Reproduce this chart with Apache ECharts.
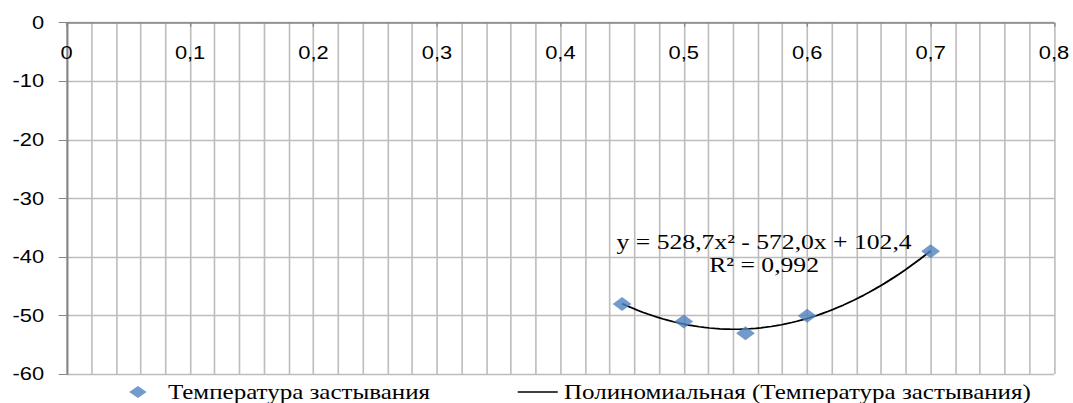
<!DOCTYPE html>
<html>
<head>
<meta charset="utf-8">
<script src="https://cdn.jsdelivr.net/npm/echarts@6/dist/echarts.min.js"></script>
<style>
  html, body { margin: 0; padding: 0; background: #fff; overflow: hidden; }
  /* the chart is laid out on a narrower canvas and widened to the window */
  #wrap { width: 858px; height: 403px; transform: scaleX(1.2506); transform-origin: 0 0; }
  #chart { width: 858px; height: 403px; }
</style>
</head>
<body>
<div id="wrap"><div id="chart"></div></div>
<script>
// Pour point measurements
const fractions = [0.45, 0.5, 0.55, 0.6, 0.7];
const pourPoint = [-48, -51, -53, -50, -39];
// Quadratic trend: y = a*x^2 + b*x + c
const trendCoef = [528.7, -572.0, 102.4];
const trendRange = [0.45, 0.7];
const seriesName = 'Температура застывания';
const trendName = 'Полиномиальная (Температура застывания)';
const eqLines = ['y = 528,7x² - 572,0x + 102,4', 'R² = 0,992'];

const [a, b, c] = trendCoef;
const trendData = [];
const steps = 60;
for (let i = 0; i <= steps; i++) {
  const x = trendRange[0] + (trendRange[1] - trendRange[0]) * i / steps;
  trendData.push([x, a * x * x + b * x + c]);
}

const AXIS = '#868686';
const GRID = '#bdbdbd';
const sans = 'Liberation Sans, Arial, sans-serif';
const serif = 'Liberation Serif, Times New Roman, serif';
const comma = v => String(Math.round(v * 10) / 10).replace('.', ',');

const chart = echarts.init(document.getElementById('chart'), null, { renderer: 'svg' });
chart.setOption({
  animation: false,
  grid: { left: 53.3, right: 14.4, top: 22.7, bottom: 28.7, containLabel: false },
  xAxis: {
    type: 'value', position: 'top', min: 0, max: 0.8, interval: 0.1,
    axisLine: { show: true, onZero: false, lineStyle: { color: AXIS, width: 1.5 } },
    axisTick: { show: true, inside: true, length: 4, lineStyle: { color: AXIS } },
    axisLabel: { inside: true, margin: 21, fontFamily: sans, fontSize: 17.5, color: '#000',
      showMinLabel: true, showMaxLabel: true, formatter: comma },
    splitLine: { show: true, lineStyle: { color: GRID, width: 1.3 } },
    minorTick: { show: false, splitNumber: 5 },
    minorSplitLine: { show: true, lineStyle: { color: GRID, width: 1.3 } }
  },
  yAxis: {
    type: 'value', min: -60, max: 0, interval: 10,
    axisLine: { show: true, onZero: false, lineStyle: { color: AXIS, width: 1.5 } },
    axisTick: { show: true, inside: false, length: 6.4, lineStyle: { color: AXIS } },
    axisLabel: { margin: 18, fontFamily: sans, fontSize: 17.5, color: '#000' },
    splitLine: { show: true, lineStyle: { color: GRID, width: 1.3 } }
  },
  legend: [
    { data: [seriesName], left: 103.3, top: 382, padding: 0, itemWidth: 14, itemHeight: 12,
      icon: 'diamond', selectedMode: false,
      textStyle: { fontFamily: serif, fontSize: 20, color: '#000', padding: [0, 0, 0, 12] } },
    { data: [trendName], left: 414, top: 382, padding: 0, itemWidth: 32, itemHeight: 1.5,
      icon: 'rect', selectedMode: false, itemStyle: { color: '#000' },
      textStyle: { fontFamily: serif, fontSize: 20, color: '#000' } }
  ],
  graphic: [
    { type: 'text', x: 611, y: 242, z: 10,
      style: { text: eqLines[0], font: '20.5px ' + serif, fill: '#000', textAlign: 'center', textVerticalAlign: 'middle' } },
    { type: 'text', x: 611, y: 265, z: 10,
      style: { text: eqLines[1], font: '20.5px ' + serif, fill: '#000', textAlign: 'center', textVerticalAlign: 'middle' } }
  ],
  series: [
    { name: trendName, type: 'line', data: trendData, showSymbol: false, symbol: 'none',
      smooth: false, lineStyle: { color: '#000', width: 1.7 }, itemStyle: { color: '#000' }, z: 2 },
    { name: seriesName, type: 'scatter', data: fractions.map((x, i) => [x, pourPoint[i]]),
      symbol: 'diamond', symbolSize: [15, 14], itemStyle: { color: '#4F81BD' }, z: 3 }
  ]
});
</script>
</body>
</html>
